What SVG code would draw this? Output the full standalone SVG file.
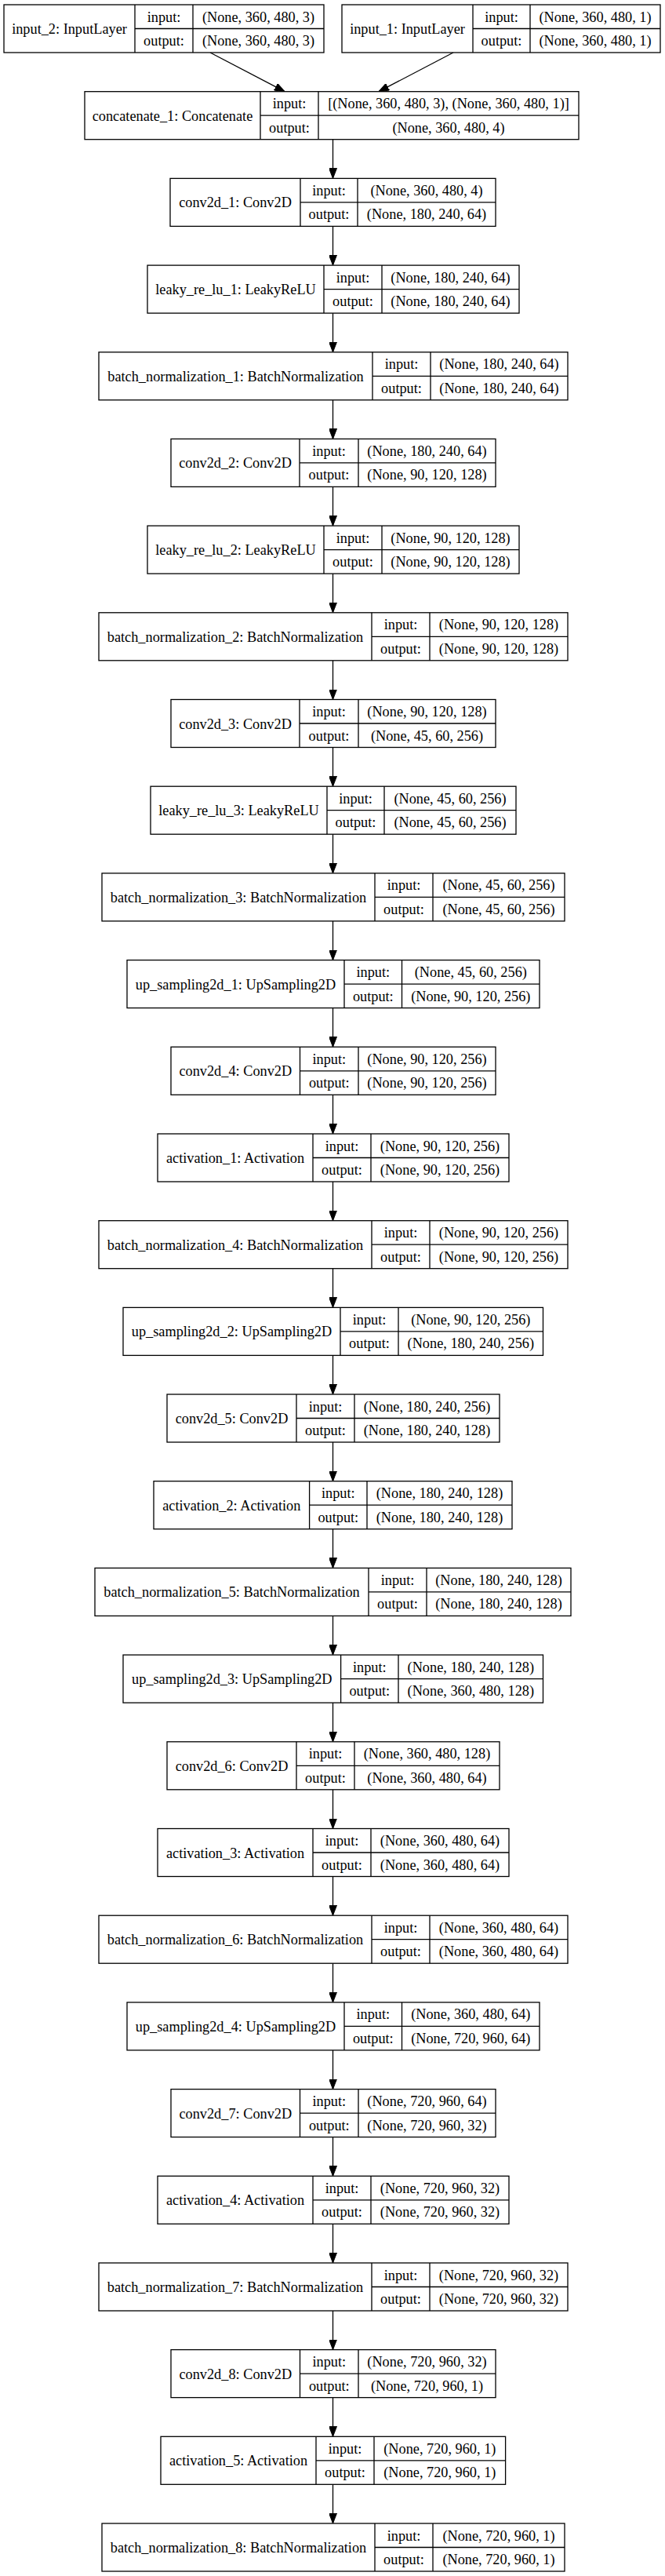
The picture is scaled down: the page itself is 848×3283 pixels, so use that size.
<svg xmlns="http://www.w3.org/2000/svg" width="848" height="3283" viewBox="0 0 848 3283">
<style>
.n rect{fill:#fff;stroke:#000;stroke-width:1.3}
.n path{fill:none;stroke:#000;stroke-width:1.3}
text{font-family:"Liberation Serif","Times New Roman",serif;font-size:18.3px;text-anchor:middle;fill:#000}
.e path{fill:none;stroke:#000;stroke-width:1.3;marker-end:url(#ah)}
</style>
<defs>
<marker id="ah" viewBox="0 0 13 10" refX="13" refY="5" markerWidth="13" markerHeight="10" orient="auto" markerUnits="userSpaceOnUse"><path d="M0,0 L13,5 L0,10 z" fill="#000" stroke="#000" stroke-width="1"/></marker>
</defs>
<rect width="848" height="3283" fill="#fff"/>
<g id="edges" class="e">
<path d="M268 67L363 116.7"/>
<path d="M578 67L483 116.7"/>
<path d="M424.5 177.7V227.4"/>
<path d="M424.5 288.4V338.1"/>
<path d="M424.5 399.1V448.8"/>
<path d="M424.5 509.8V559.4"/>
<path d="M424.5 620.4V670.1"/>
<path d="M424.5 731.1V780.8"/>
<path d="M424.5 841.8V891.5"/>
<path d="M424.5 952.5V1002.2"/>
<path d="M424.5 1063.2V1112.9"/>
<path d="M424.5 1173.9V1223.6"/>
<path d="M424.5 1284.6V1334.3"/>
<path d="M424.5 1395.3V1445"/>
<path d="M424.5 1506V1555.7"/>
<path d="M424.5 1616.7V1666.4"/>
<path d="M424.5 1727.4V1777"/>
<path d="M424.5 1838V1887.7"/>
<path d="M424.5 1948.7V1998.4"/>
<path d="M424.5 2059.4V2109.1"/>
<path d="M424.5 2170.1V2219.8"/>
<path d="M424.5 2280.8V2330.5"/>
<path d="M424.5 2391.5V2441.2"/>
<path d="M424.5 2502.2V2551.9"/>
<path d="M424.5 2612.9V2662.6"/>
<path d="M424.5 2723.6V2773.3"/>
<path d="M424.5 2834.3V2884"/>
<path d="M424.5 2945V2994.6"/>
<path d="M424.5 3055.6V3105.3"/>
<path d="M424.5 3166.3V3216"/>
</g>
<g id="input_2" class="n" transform="translate(0,6)"><rect x="5" y="0" width="408" height="61"/><path d="M172 0V61M246 0V61M172 30.5H413"/><text x="88.5" y="37">input_2: InputLayer</text><text x="209" y="21.6">input:</text><text x="209" y="52.1">output:</text><text x="329.5" y="21.6">(None, 360, 480, 3)</text><text x="329.5" y="52.1">(None, 360, 480, 3)</text></g>
<g id="input_1" class="n" transform="translate(0,6)"><rect x="436" y="0" width="406" height="61"/><path d="M603 0V61M676 0V61M603 30.5H842"/><text x="519.5" y="37">input_1: InputLayer</text><text x="639.5" y="21.6">input:</text><text x="639.5" y="52.1">output:</text><text x="759" y="21.6">(None, 360, 480, 1)</text><text x="759" y="52.1">(None, 360, 480, 1)</text></g>
<g id="concatenate_1" class="n" transform="translate(0,116.7)"><rect x="108" y="0" width="630" height="61"/><path d="M332 0V61M406 0V61M332 30.5H738"/><text x="220" y="37">concatenate_1: Concatenate</text><text x="369" y="21.6">input:</text><text x="369" y="52.1">output:</text><text x="572" y="21.6">[(None, 360, 480, 3), (None, 360, 480, 1)]</text><text x="572" y="52.1">(None, 360, 480, 4)</text></g>
<g id="conv2d_1" class="n" transform="translate(0,227.4)"><rect x="217" y="0" width="415" height="61"/><path d="M383 0V61M456 0V61M383 30.5H632"/><text x="300" y="37">conv2d_1: Conv2D</text><text x="419.5" y="21.6">input:</text><text x="419.5" y="52.1">output:</text><text x="544" y="21.6">(None, 360, 480, 4)</text><text x="544" y="52.1">(None, 180, 240, 64)</text></g>
<g id="leaky_re_lu_1" class="n" transform="translate(0,338.1)"><rect x="188" y="0" width="474" height="61"/><path d="M413 0V61M487 0V61M413 30.5H662"/><text x="300.5" y="37">leaky_re_lu_1: LeakyReLU</text><text x="450" y="21.6">input:</text><text x="450" y="52.1">output:</text><text x="574.5" y="21.6">(None, 180, 240, 64)</text><text x="574.5" y="52.1">(None, 180, 240, 64)</text></g>
<g id="batch_normalization_1" class="n" transform="translate(0,448.8)"><rect x="126" y="0" width="598" height="61"/><path d="M475 0V61M549 0V61M475 30.5H724"/><text x="300.5" y="37">batch_normalization_1: BatchNormalization</text><text x="512" y="21.6">input:</text><text x="512" y="52.1">output:</text><text x="636.5" y="21.6">(None, 180, 240, 64)</text><text x="636.5" y="52.1">(None, 180, 240, 64)</text></g>
<g id="conv2d_2" class="n" transform="translate(0,559.4)"><rect x="218" y="0" width="414" height="61"/><path d="M382 0V61M457 0V61M382 30.5H632"/><text x="300" y="37">conv2d_2: Conv2D</text><text x="419.5" y="21.6">input:</text><text x="419.5" y="52.1">output:</text><text x="544.5" y="21.6">(None, 180, 240, 64)</text><text x="544.5" y="52.1">(None, 90, 120, 128)</text></g>
<g id="leaky_re_lu_2" class="n" transform="translate(0,670.1)"><rect x="188" y="0" width="474" height="61"/><path d="M413 0V61M487 0V61M413 30.5H662"/><text x="300.5" y="37">leaky_re_lu_2: LeakyReLU</text><text x="450" y="21.6">input:</text><text x="450" y="52.1">output:</text><text x="574.5" y="21.6">(None, 90, 120, 128)</text><text x="574.5" y="52.1">(None, 90, 120, 128)</text></g>
<g id="batch_normalization_2" class="n" transform="translate(0,780.8)"><rect x="126" y="0" width="598" height="61"/><path d="M474 0V61M548 0V61M474 30.5H724"/><text x="300" y="37">batch_normalization_2: BatchNormalization</text><text x="511" y="21.6">input:</text><text x="511" y="52.1">output:</text><text x="636" y="21.6">(None, 90, 120, 128)</text><text x="636" y="52.1">(None, 90, 120, 128)</text></g>
<g id="conv2d_3" class="n" transform="translate(0,891.5)"><rect x="218" y="0" width="414" height="61"/><path d="M382 0V61M457 0V61M382 30.5H632"/><text x="300" y="37">conv2d_3: Conv2D</text><text x="419.5" y="21.6">input:</text><text x="419.5" y="52.1">output:</text><text x="544.5" y="21.6">(None, 90, 120, 128)</text><text x="544.5" y="52.1">(None, 45, 60, 256)</text></g>
<g id="leaky_re_lu_3" class="n" transform="translate(0,1002.2)"><rect x="192" y="0" width="466" height="61"/><path d="M417 0V61M490 0V61M417 30.5H658"/><text x="304.5" y="37">leaky_re_lu_3: LeakyReLU</text><text x="453.5" y="21.6">input:</text><text x="453.5" y="52.1">output:</text><text x="574" y="21.6">(None, 45, 60, 256)</text><text x="574" y="52.1">(None, 45, 60, 256)</text></g>
<g id="batch_normalization_3" class="n" transform="translate(0,1112.9)"><rect x="130" y="0" width="590" height="61"/><path d="M478 0V61M552 0V61M478 30.5H720"/><text x="304" y="37">batch_normalization_3: BatchNormalization</text><text x="515" y="21.6">input:</text><text x="515" y="52.1">output:</text><text x="636" y="21.6">(None, 45, 60, 256)</text><text x="636" y="52.1">(None, 45, 60, 256)</text></g>
<g id="up_sampling2d_1" class="n" transform="translate(0,1223.6)"><rect x="162" y="0" width="526" height="61"/><path d="M439 0V61M512.5 0V61M439 30.5H688"/><text x="300.5" y="37">up_sampling2d_1: UpSampling2D</text><text x="475.8" y="21.6">input:</text><text x="475.8" y="52.1">output:</text><text x="600.3" y="21.6">(None, 45, 60, 256)</text><text x="600.3" y="52.1">(None, 90, 120, 256)</text></g>
<g id="conv2d_4" class="n" transform="translate(0,1334.3)"><rect x="218" y="0" width="414" height="61"/><path d="M382.5 0V61M457 0V61M382.5 30.5H632"/><text x="300.3" y="37">conv2d_4: Conv2D</text><text x="419.8" y="21.6">input:</text><text x="419.8" y="52.1">output:</text><text x="544.5" y="21.6">(None, 90, 120, 256)</text><text x="544.5" y="52.1">(None, 90, 120, 256)</text></g>
<g id="activation_1" class="n" transform="translate(0,1445)"><rect x="201" y="0" width="448" height="61"/><path d="M399 0V61M473 0V61M399 30.5H649"/><text x="300" y="37">activation_1: Activation</text><text x="436" y="21.6">input:</text><text x="436" y="52.1">output:</text><text x="561" y="21.6">(None, 90, 120, 256)</text><text x="561" y="52.1">(None, 90, 120, 256)</text></g>
<g id="batch_normalization_4" class="n" transform="translate(0,1555.7)"><rect x="126" y="0" width="598" height="61"/><path d="M474 0V61M548 0V61M474 30.5H724"/><text x="300" y="37">batch_normalization_4: BatchNormalization</text><text x="511" y="21.6">input:</text><text x="511" y="52.1">output:</text><text x="636" y="21.6">(None, 90, 120, 256)</text><text x="636" y="52.1">(None, 90, 120, 256)</text></g>
<g id="up_sampling2d_2" class="n" transform="translate(0,1666.4)"><rect x="157" y="0" width="535.5" height="61"/><path d="M434 0V61M508 0V61M434 30.5H692.5"/><text x="295.5" y="37">up_sampling2d_2: UpSampling2D</text><text x="471" y="21.6">input:</text><text x="471" y="52.1">output:</text><text x="600.3" y="21.6">(None, 90, 120, 256)</text><text x="600.3" y="52.1">(None, 180, 240, 256)</text></g>
<g id="conv2d_5" class="n" transform="translate(0,1777)"><rect x="213" y="0" width="424" height="61"/><path d="M378 0V61M452 0V61M378 30.5H637"/><text x="295.5" y="37">conv2d_5: Conv2D</text><text x="415" y="21.6">input:</text><text x="415" y="52.1">output:</text><text x="544.5" y="21.6">(None, 180, 240, 256)</text><text x="544.5" y="52.1">(None, 180, 240, 128)</text></g>
<g id="activation_2" class="n" transform="translate(0,1887.7)"><rect x="196" y="0" width="457" height="61"/><path d="M394.6 0V61M468 0V61M394.6 30.5H653"/><text x="295.3" y="37">activation_2: Activation</text><text x="431.3" y="21.6">input:</text><text x="431.3" y="52.1">output:</text><text x="560.5" y="21.6">(None, 180, 240, 128)</text><text x="560.5" y="52.1">(None, 180, 240, 128)</text></g>
<g id="batch_normalization_5" class="n" transform="translate(0,1998.4)"><rect x="121" y="0" width="607" height="61"/><path d="M470 0V61M544 0V61M470 30.5H728"/><text x="295.5" y="37">batch_normalization_5: BatchNormalization</text><text x="507" y="21.6">input:</text><text x="507" y="52.1">output:</text><text x="636" y="21.6">(None, 180, 240, 128)</text><text x="636" y="52.1">(None, 180, 240, 128)</text></g>
<g id="up_sampling2d_3" class="n" transform="translate(0,2109.1)"><rect x="157" y="0" width="535.5" height="61"/><path d="M434.6 0V61M508 0V61M434.6 30.5H692.5"/><text x="295.8" y="37">up_sampling2d_3: UpSampling2D</text><text x="471.3" y="21.6">input:</text><text x="471.3" y="52.1">output:</text><text x="600.3" y="21.6">(None, 180, 240, 128)</text><text x="600.3" y="52.1">(None, 360, 480, 128)</text></g>
<g id="conv2d_6" class="n" transform="translate(0,2219.8)"><rect x="213" y="0" width="424" height="61"/><path d="M378 0V61M452 0V61M378 30.5H637"/><text x="295.5" y="37">conv2d_6: Conv2D</text><text x="415" y="21.6">input:</text><text x="415" y="52.1">output:</text><text x="544.5" y="21.6">(None, 360, 480, 128)</text><text x="544.5" y="52.1">(None, 360, 480, 64)</text></g>
<g id="activation_3" class="n" transform="translate(0,2330.5)"><rect x="201" y="0" width="448" height="61"/><path d="M399 0V61M473 0V61M399 30.5H649"/><text x="300" y="37">activation_3: Activation</text><text x="436" y="21.6">input:</text><text x="436" y="52.1">output:</text><text x="561" y="21.6">(None, 360, 480, 64)</text><text x="561" y="52.1">(None, 360, 480, 64)</text></g>
<g id="batch_normalization_6" class="n" transform="translate(0,2441.2)"><rect x="126" y="0" width="598" height="61"/><path d="M474 0V61M548 0V61M474 30.5H724"/><text x="300" y="37">batch_normalization_6: BatchNormalization</text><text x="511" y="21.6">input:</text><text x="511" y="52.1">output:</text><text x="636" y="21.6">(None, 360, 480, 64)</text><text x="636" y="52.1">(None, 360, 480, 64)</text></g>
<g id="up_sampling2d_4" class="n" transform="translate(0,2551.9)"><rect x="162" y="0" width="526" height="61"/><path d="M439 0V61M512.5 0V61M439 30.5H688"/><text x="300.5" y="37">up_sampling2d_4: UpSampling2D</text><text x="475.8" y="21.6">input:</text><text x="475.8" y="52.1">output:</text><text x="600.3" y="21.6">(None, 360, 480, 64)</text><text x="600.3" y="52.1">(None, 720, 960, 64)</text></g>
<g id="conv2d_7" class="n" transform="translate(0,2662.6)"><rect x="218" y="0" width="414" height="61"/><path d="M382.5 0V61M457 0V61M382.5 30.5H632"/><text x="300.3" y="37">conv2d_7: Conv2D</text><text x="419.8" y="21.6">input:</text><text x="419.8" y="52.1">output:</text><text x="544.5" y="21.6">(None, 720, 960, 64)</text><text x="544.5" y="52.1">(None, 720, 960, 32)</text></g>
<g id="activation_4" class="n" transform="translate(0,2773.3)"><rect x="201" y="0" width="448" height="61"/><path d="M399 0V61M473 0V61M399 30.5H649"/><text x="300" y="37">activation_4: Activation</text><text x="436" y="21.6">input:</text><text x="436" y="52.1">output:</text><text x="561" y="21.6">(None, 720, 960, 32)</text><text x="561" y="52.1">(None, 720, 960, 32)</text></g>
<g id="batch_normalization_7" class="n" transform="translate(0,2884)"><rect x="126" y="0" width="598" height="61"/><path d="M474 0V61M548 0V61M474 30.5H724"/><text x="300" y="37">batch_normalization_7: BatchNormalization</text><text x="511" y="21.6">input:</text><text x="511" y="52.1">output:</text><text x="636" y="21.6">(None, 720, 960, 32)</text><text x="636" y="52.1">(None, 720, 960, 32)</text></g>
<g id="conv2d_8" class="n" transform="translate(0,2994.6)"><rect x="218" y="0" width="414" height="61"/><path d="M382.5 0V61M457 0V61M382.5 30.5H632"/><text x="300.3" y="37">conv2d_8: Conv2D</text><text x="419.8" y="21.6">input:</text><text x="419.8" y="52.1">output:</text><text x="544.5" y="21.6">(None, 720, 960, 32)</text><text x="544.5" y="52.1">(None, 720, 960, 1)</text></g>
<g id="activation_5" class="n" transform="translate(0,3105.3)"><rect x="205" y="0" width="439.6" height="61"/><path d="M403 0V61M477 0V61M403 30.5H644.6"/><text x="304" y="37">activation_5: Activation</text><text x="440" y="21.6">input:</text><text x="440" y="52.1">output:</text><text x="560.8" y="21.6">(None, 720, 960, 1)</text><text x="560.8" y="52.1">(None, 720, 960, 1)</text></g>
<g id="batch_normalization_8" class="n" transform="translate(0,3216)"><rect x="130" y="0" width="590" height="61"/><path d="M478 0V61M552 0V61M478 30.5H720"/><text x="304" y="37">batch_normalization_8: BatchNormalization</text><text x="515" y="21.6">input:</text><text x="515" y="52.1">output:</text><text x="636" y="21.6">(None, 720, 960, 1)</text><text x="636" y="52.1">(None, 720, 960, 1)</text></g>
</svg>
